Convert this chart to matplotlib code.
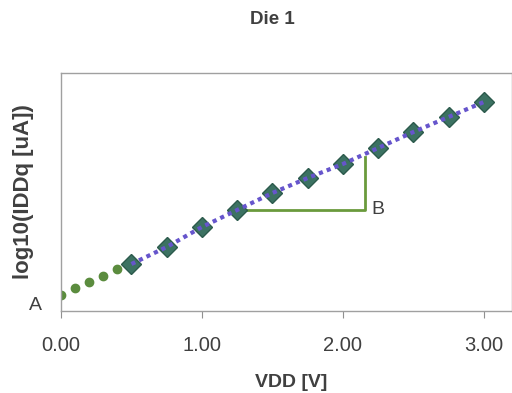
import matplotlib
matplotlib.use("Agg")
import matplotlib.pyplot as plt

plt.rcParams['font.family'] = ['Liberation Sans', 'DejaVu Sans']

# Data (log10 IDDq in arbitrary y units)
vdd_meas = [0.5, 0.75, 1.0, 1.25, 1.5, 1.75, 2.0, 2.25, 2.5, 2.75, 3.0]
log_iddq = [0.47, 0.64, 0.84, 1.01, 1.18, 1.33, 1.47, 1.63, 1.79, 1.94, 2.09]
vdd_extrap = [0.0, 0.1, 0.2, 0.3, 0.4]
log_extrap = [0.16, 0.23, 0.29, 0.35, 0.42]
tri_x = [1.25, 2.16, 2.16]
tri_y = [1.01, 1.01, 1.54]
xticks = [0, 1, 2, 3]
xticklabels = ["0.00", "1.00", "2.00", "3.00"]

fig = plt.figure(figsize=(5.12, 3.93), dpi=100)
ax = fig.add_axes([61/512, 1-311/393, 1-61/512, (311-73)/393])

ax.plot(vdd_extrap, log_extrap, 'o', color='#5b8c3e', markersize=6, linestyle='none')
ax.plot(tri_x, tri_y, color='#6a9a3c', linewidth=2)
ax.plot(vdd_meas, log_iddq, 'D', color='#3c7262', markeredgecolor='#2c5a4c',
        markersize=10, linestyle='none', zorder=3)
ax.plot(vdd_meas, log_iddq, color='#6655cc', linewidth=3, linestyle=(0, (1, 1)), zorder=4)

ax.text(-0.18, 0.06, "A", fontsize=14, color='#404040', ha='center', va='center', clip_on=False)
ax.text(2.25, 1.01, "B", fontsize=14, color='#404040', ha='center', va='center')

ax.set_xlim(0, 3.2)
ax.set_ylim(0, 2.38)
ax.set_xticks(xticks)
ax.set_xticklabels(xticklabels, fontsize=14.5, color='#404040')
ax.set_yticks([])
ax.tick_params(axis='x', direction='out', length=5, color='#909090', pad=13)
for s in ax.spines.values():
    s.set_color('#a0a0a0')
    s.set_linewidth(1)

ax.set_xlabel("VDD [V]", fontsize=14, fontweight='bold', color='#404040')
ax.xaxis.set_label_coords((291-61)/(512-61), -(374-311)/(311-73))
ax.set_ylabel("log10(IDDq [uA])", fontsize=16, fontweight='bold', color='#404040')
ax.yaxis.set_label_coords(-(61-34)/(512-61), 0.5)

fig.text(272/512, 1-20/393, "Die 1", fontsize=13.5, fontweight='bold', color='#404040',
         ha='center', va='center')

fig.savefig("out.png", dpi=100)
